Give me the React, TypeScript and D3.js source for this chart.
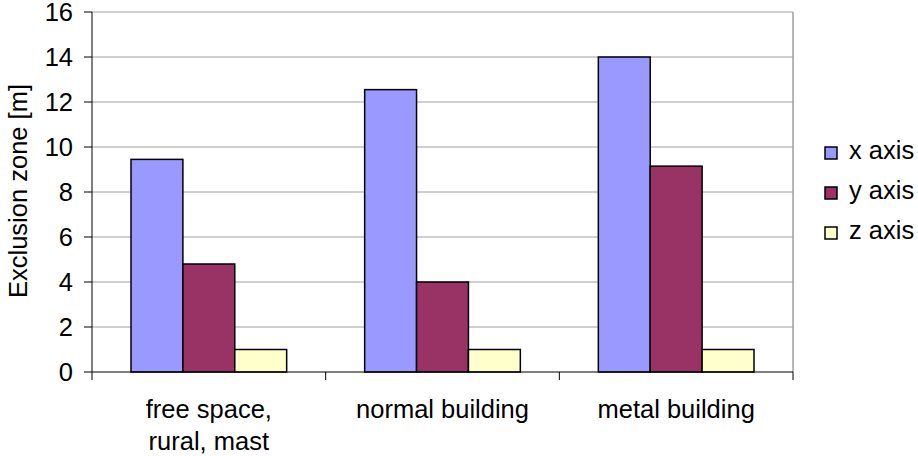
import React, { useEffect, useRef } from 'react';
import * as d3 from 'd3';

const categories = [['free space,', 'rural, mast'], ['normal building'], ['metal building']];
const seriesNames = ['x axis', 'y axis', 'z axis'];
const xAxisValues = [9.45, 12.55, 14];
const yAxisValues = [4.8, 4.0, 9.15];
const zAxisValues = [1, 1, 1];
const yTicks = [0, 2, 4, 6, 8, 10, 12, 14, 16];
const colors = ['#9999FF', '#993366', '#FFFFCC'];

export default function App() {
  const svgRef = useRef<SVGSVGElement>(null);

  useEffect(() => {
    const svg = d3.select(svgRef.current);
    svg.selectAll('*').remove();
    const font = 'Liberation Sans, Arial, sans-serif';
    const fs = 25.5;

    const left = 92, right = 793, top = 12, bottom = 372;
    const series = [xAxisValues, yAxisValues, zAxisValues];

    const x0 = d3.scaleBand<number>().domain(categories.map((_, i) => i)).range([left, right]).paddingInner(0).paddingOuter(0);
    const x1 = d3.scaleBand<number>().domain([0, 1, 2]).range([39, x0.bandwidth() - 39]);
    const y = d3.scaleLinear().domain([0, 16]).range([bottom, top]);

    // grid
    svg.append('g').selectAll('line').data(yTicks.filter(t => t > 0)).join('line')
      .attr('x1', left).attr('x2', right)
      .attr('y1', d => y(d)).attr('y2', d => y(d))
      .attr('stroke', '#a0a0a0').attr('stroke-width', 1);
    svg.append('line').attr('x1', right).attr('x2', right).attr('y1', top).attr('y2', bottom)
      .attr('stroke', '#a0a0a0').attr('stroke-width', 1.5);

    // bars
    series.forEach((vals, si) => {
      svg.append('g').selectAll('rect').data(vals).join('rect')
        .attr('x', (_, i) => (x0(i) as number) + (x1(si) as number))
        .attr('width', x1.bandwidth())
        .attr('y', d => y(d))
        .attr('height', d => y(0) - y(d))
        .attr('fill', colors[si])
        .attr('stroke', '#000').attr('stroke-width', 1.5);
    });

    // axes
    svg.append('line').attr('x1', left).attr('x2', left).attr('y1', top).attr('y2', bottom).attr('stroke', '#000');
    svg.append('line').attr('x1', left).attr('x2', right).attr('y1', bottom).attr('y2', bottom).attr('stroke', '#000');
    const ya = svg.append('g');
    ya.selectAll('line').data(yTicks).join('line')
      .attr('x1', left - 8).attr('x2', left).attr('y1', d => y(d)).attr('y2', d => y(d)).attr('stroke', '#000');
    ya.selectAll('text').data(yTicks).join('text')
      .attr('x', left - 19).attr('y', d => y(d) + 9)
      .attr('text-anchor', 'end').attr('font-family', font).attr('font-size', fs)
      .text(d => d);
    const bounds = [left, ...categories.map((_, i) => (x0(i) as number) + x0.bandwidth())];
    svg.append('g').selectAll('line').data(bounds).join('line')
      .attr('x1', d => d).attr('x2', d => d).attr('y1', bottom).attr('y2', bottom + 8).attr('stroke', '#000');

    const cl = svg.append('g');
    categories.forEach((lines, i) => {
      const cx = (x0(i) as number) + x0.bandwidth() / 2;
      lines.forEach((ln, li) => {
        cl.append('text').attr('x', cx).attr('y', 418 + li * 32)
          .attr('text-anchor', 'middle').attr('font-family', font).attr('font-size', fs)
          .text(ln);
      });
    });

    svg.append('text')
      .attr('transform', `translate(27,191) rotate(-90)`)
      .attr('text-anchor', 'middle').attr('font-family', font).attr('font-size', fs)
      .text('Exclusion zone [m]');

    // legend
    const lg = svg.append('g');
    seriesNames.forEach((name, i) => {
      const base = 159 + i * 40;
      lg.append('rect').attr('x', 825).attr('y', base - 12).attr('width', 12).attr('height', 12)
        .attr('fill', colors[i]).attr('stroke', '#000').attr('stroke-width', 1.5);
      lg.append('text').attr('x', 849).attr('y', base)
        .attr('font-family', font).attr('font-size', fs).text(name);
    });
  }, []);

  return (
    <svg ref={svgRef} width={918} height={456} style={{ position: 'absolute', left: 0, top: 0, background: '#fff' }} />
  );
}
